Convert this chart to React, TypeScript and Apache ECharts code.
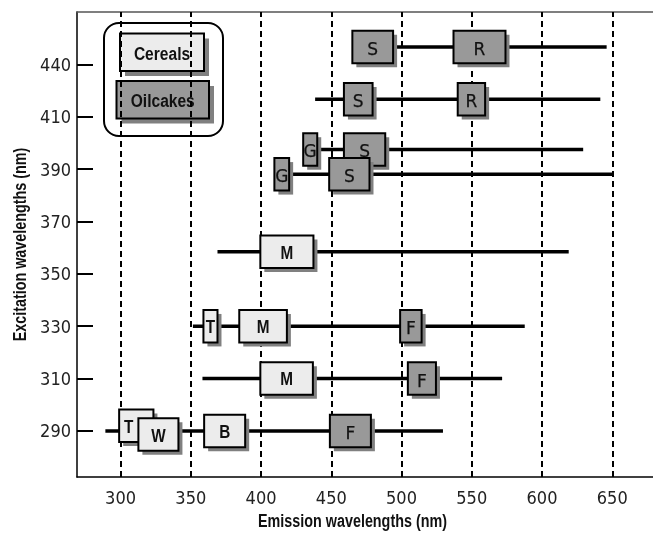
import React, { useEffect, useRef } from "react";
import * as echarts from "echarts";

// Axis ticks
const xTickValues = [300, 350, 400, 450, 500, 550, 600, 650];
const yTickLabels = [290, 310, 330, 350, 370, 390, 410, 440];

// Emission ranges (horizontal lines) per excitation row
const rowExcitation = [450, 420, 397.5, 388, 358.4, 330, 310, 290];
const rowEmissionStart = [479, 438.5, 435, 414, 369, 351.5, 358.3, 289.2];
const rowEmissionEnd = [646, 641.5, 629.3, 650, 619, 587.7, 571.6, 529.5];

// Boxes: label, group, emission from/to, excitation
const boxLabels = ["S", "R", "S", "R", "G", "S", "G", "S", "M", "T", "M", "F", "M", "F", "T", "W", "B", "F"];
const boxGroups = ["O", "O", "O", "O", "O", "O", "O", "O", "C", "C", "C", "O", "C", "O", "C", "C", "C", "O"];
const boxFrom = [465, 537, 459, 540, 430, 459, 409.5, 448.5, 399.5, 359, 384.5, 499, 399.5, 504.5, 299, 312.7, 359.5, 449];
const boxTo = [494, 574, 479.4, 559.5, 440, 488.4, 420, 477.2, 437.3, 369, 418.4, 514.3, 436.9, 524.5, 323.4, 341.2, 388.7, 478.2];
const boxExcitation = [450, 450, 420, 420, 397.5, 397.5, 388, 388, 358.4, 330, 330, 330, 310, 310, 292, 288.6, 290, 290];

const legendNames = ["Cereals", "Oilcakes"];

const ARIAL = "'Liberation Sans', Arial, sans-serif";
const NARROW = "'DejaVu Sans Condensed', 'Liberation Sans', sans-serif";
const CEREAL_FILL = "#ececec";
const OIL_FILL = "#999999";
const SHADOW = "#808080";

// maps excitation (nm) onto the evenly spaced tick index scale of the y axis
function toAxis(nm: number): number {
  const t = yTickLabels;
  let i = 0;
  while (i < t.length - 2 && nm > t[i + 1]) i++;
  return i + (nm - t[i]) / (t[i + 1] - t[i]);
}

export default function App() {
  const ref = useRef<HTMLDivElement>(null);
  useEffect(() => {
    if (!ref.current) return;
    const chart = echarts.init(ref.current, undefined, { renderer: "svg" });

    const lineData = rowExcitation.map((ex, i) => [rowEmissionStart[i], rowEmissionEnd[i], toAxis(ex)]);
    const boxData = boxFrom.map((f, i) => [f, boxTo[i], toAxis(boxExcitation[i])]);
    const BOX_H = 32.5;

    const legendChildren: any[] = [
      { type: "rect", shape: { x: 99, y: 19, width: 130, height: 121 }, style: { fill: "#fff" } },
      {
        type: "rect",
        shape: { x: 104, y: 23, width: 119, height: 113, r: 15 },
        style: { fill: "#fff", stroke: "#000", lineWidth: 2 },
      },
    ];
    const legendBoxes = [
      { x: 120, y: 33.5, w: 84, h: 37.5, fill: CEREAL_FILL },
      { x: 116.5, y: 81, w: 92.5, h: 37.5, fill: OIL_FILL },
    ];
    legendBoxes.forEach((b, i) => {
      legendChildren.push({ type: "rect", shape: { x: b.x + 5, y: b.y + 5, width: b.w, height: b.h }, style: { fill: SHADOW } });
      legendChildren.push({
        type: "rect",
        shape: { x: b.x, y: b.y, width: b.w, height: b.h },
        style: { fill: b.fill, stroke: "#000", lineWidth: 2 },
      });
      legendChildren.push({
        type: "text",
        x: b.x + b.w / 2,
        y: b.y + b.h / 2 + 1,
        scaleX: 0.82,
        style: {
          text: legendNames[i],
          fontFamily: ARIAL,
          fontWeight: "bold",
          fontSize: 19,
          fill: "#111",
          align: "center",
          verticalAlign: "middle",
        },
      });
    });

    chart.setOption({
      animation: false,
      grid: { left: 77, right: 0, top: 12, bottom: 60, containLabel: false },
      xAxis: [
        {
          type: "value",
          min: 269,
          max: 679,
          axisLine: { show: true, onZero: false, lineStyle: { color: "#000", width: 1.5 } },
          axisTick: { show: false },
          splitLine: { show: false },
          axisLabel: {
            customValues: xTickValues,
            margin: 11,
            fontSize: 18,
            fontFamily: NARROW,
            color: "#222",
          },
        },
        {
          type: "value",
          position: "top",
          min: 269,
          max: 679,
          axisLine: { show: true, onZero: false, lineStyle: { color: "#555", width: 1.5 } },
          axisTick: { show: false },
          axisLabel: { show: false },
          splitLine: { show: false },
        },
      ],
      yAxis: {
        type: "value",
        min: -0.88,
        max: 8,
        axisLine: { show: true, onZero: false, lineStyle: { color: "#000", width: 1.5 } },
        axisTick: {
          show: true,
          inside: true,
          length: 16,
          lineStyle: { color: "#000", width: 2 },
          customValues: yTickLabels.map((_, i) => i),
        },
        axisLabel: {
          customValues: yTickLabels.map((_, i) => i),
          formatter: (v: number) => String(yTickLabels[Math.round(v)]),
          margin: 6,
          fontSize: 18,
          fontFamily: NARROW,
          color: "#222",
        },
        splitLine: { show: false },
      },
      graphic: [
        {
          type: "text",
          x: 352.5,
          y: 521,
          scaleX: 0.82,
          style: {
            text: "Emission wavelengths (nm)",
            fontFamily: ARIAL,
            fontWeight: "bold",
            fontSize: 17.5,
            fill: "#111",
            align: "center",
            verticalAlign: "middle",
          },
          z: 10,
        },
        {
          type: "text",
          x: 20,
          y: 244.5,
          rotation: Math.PI / 2,
          scaleX: 0.82,
          style: {
            text: "Excitation wavelengths (nm)",
            fontFamily: ARIAL,
            fontWeight: "bold",
            fontSize: 17.5,
            fill: "#111",
            align: "center",
            verticalAlign: "middle",
          },
          z: 10,
        },
        { type: "group", children: legendChildren, z: 20 },
      ],
      series: [
        {
          type: "line",
          data: [],
          z: 1,
          markLine: {
            z: 1,
            silent: true,
            symbol: ["none", "none"],
            label: { show: false },
            lineStyle: { type: [6, 4], color: "#000", width: 2 },
            data: xTickValues.map((v) => ({ xAxis: v })),
          },
        },
        {
          type: "custom",
          z: 3,
          data: lineData,
          renderItem: (params: any, api: any) => {
            const p0 = api.coord([api.value(0), api.value(2)]);
            const p1 = api.coord([api.value(1), api.value(2)]);
            return {
              type: "line",
              shape: { x1: p0[0], y1: p0[1], x2: p1[0], y2: p1[1] },
              style: { stroke: "#000", lineWidth: 3.5 },
            };
          },
        },
        {
          type: "custom",
          z: 4,
          data: boxData,
          renderItem: (params: any, api: any) => {
            const i = params.dataIndex;
            const p0 = api.coord([api.value(0), api.value(2)]);
            const p1 = api.coord([api.value(1), api.value(2)]);
            const x = p0[0];
            const w = p1[0] - p0[0];
            const y = p0[1] - BOX_H / 2;
            const oil = boxGroups[i] === "O";
            // if the next box (same row) covers part of this one, centre the label in the visible part
            let visRight = x + w;
            const n = i + 1;
            if (n < boxFrom.length && Math.abs(boxExcitation[n] - boxExcitation[i]) < 5 && boxFrom[n] < boxTo[i] && boxFrom[n] > boxFrom[i]) {
              visRight = api.coord([boxFrom[n], api.value(2)])[0];
            }
            const cx = (x + visRight) / 2;
            return {
              type: "group",
              children: [
                { type: "rect", shape: { x: x + 4, y: y + 4, width: w, height: BOX_H }, style: { fill: SHADOW } },
                {
                  type: "rect",
                  shape: { x, y, width: w, height: BOX_H },
                  style: { fill: oil ? OIL_FILL : CEREAL_FILL, stroke: "#000", lineWidth: 2 },
                },
                {
                  type: "text",
                  x: cx,
                  y: y + BOX_H / 2 + (oil ? 2 : 1),
                  scaleX: oil ? 1 : 0.85,
                  style: {
                    text: boxLabels[i],
                    fontFamily: oil ? "'DejaVu Sans', sans-serif" : ARIAL,
                    fontWeight: oil ? "normal" : "bold",
                    fontSize: oil ? 17 : 18,
                    fill: "#111",
                    stroke: oil ? "#111" : undefined,
                    lineWidth: oil ? 0.25 : 0,
                    align: "center",
                    verticalAlign: "middle",
                  },
                },
              ],
            };
          },
        },
      ],
    });
    return () => chart.dispose();
  }, []);
  return <div ref={ref} style={{ position: "fixed", left: 0, top: 0, width: 653, height: 537 }} />;
}
